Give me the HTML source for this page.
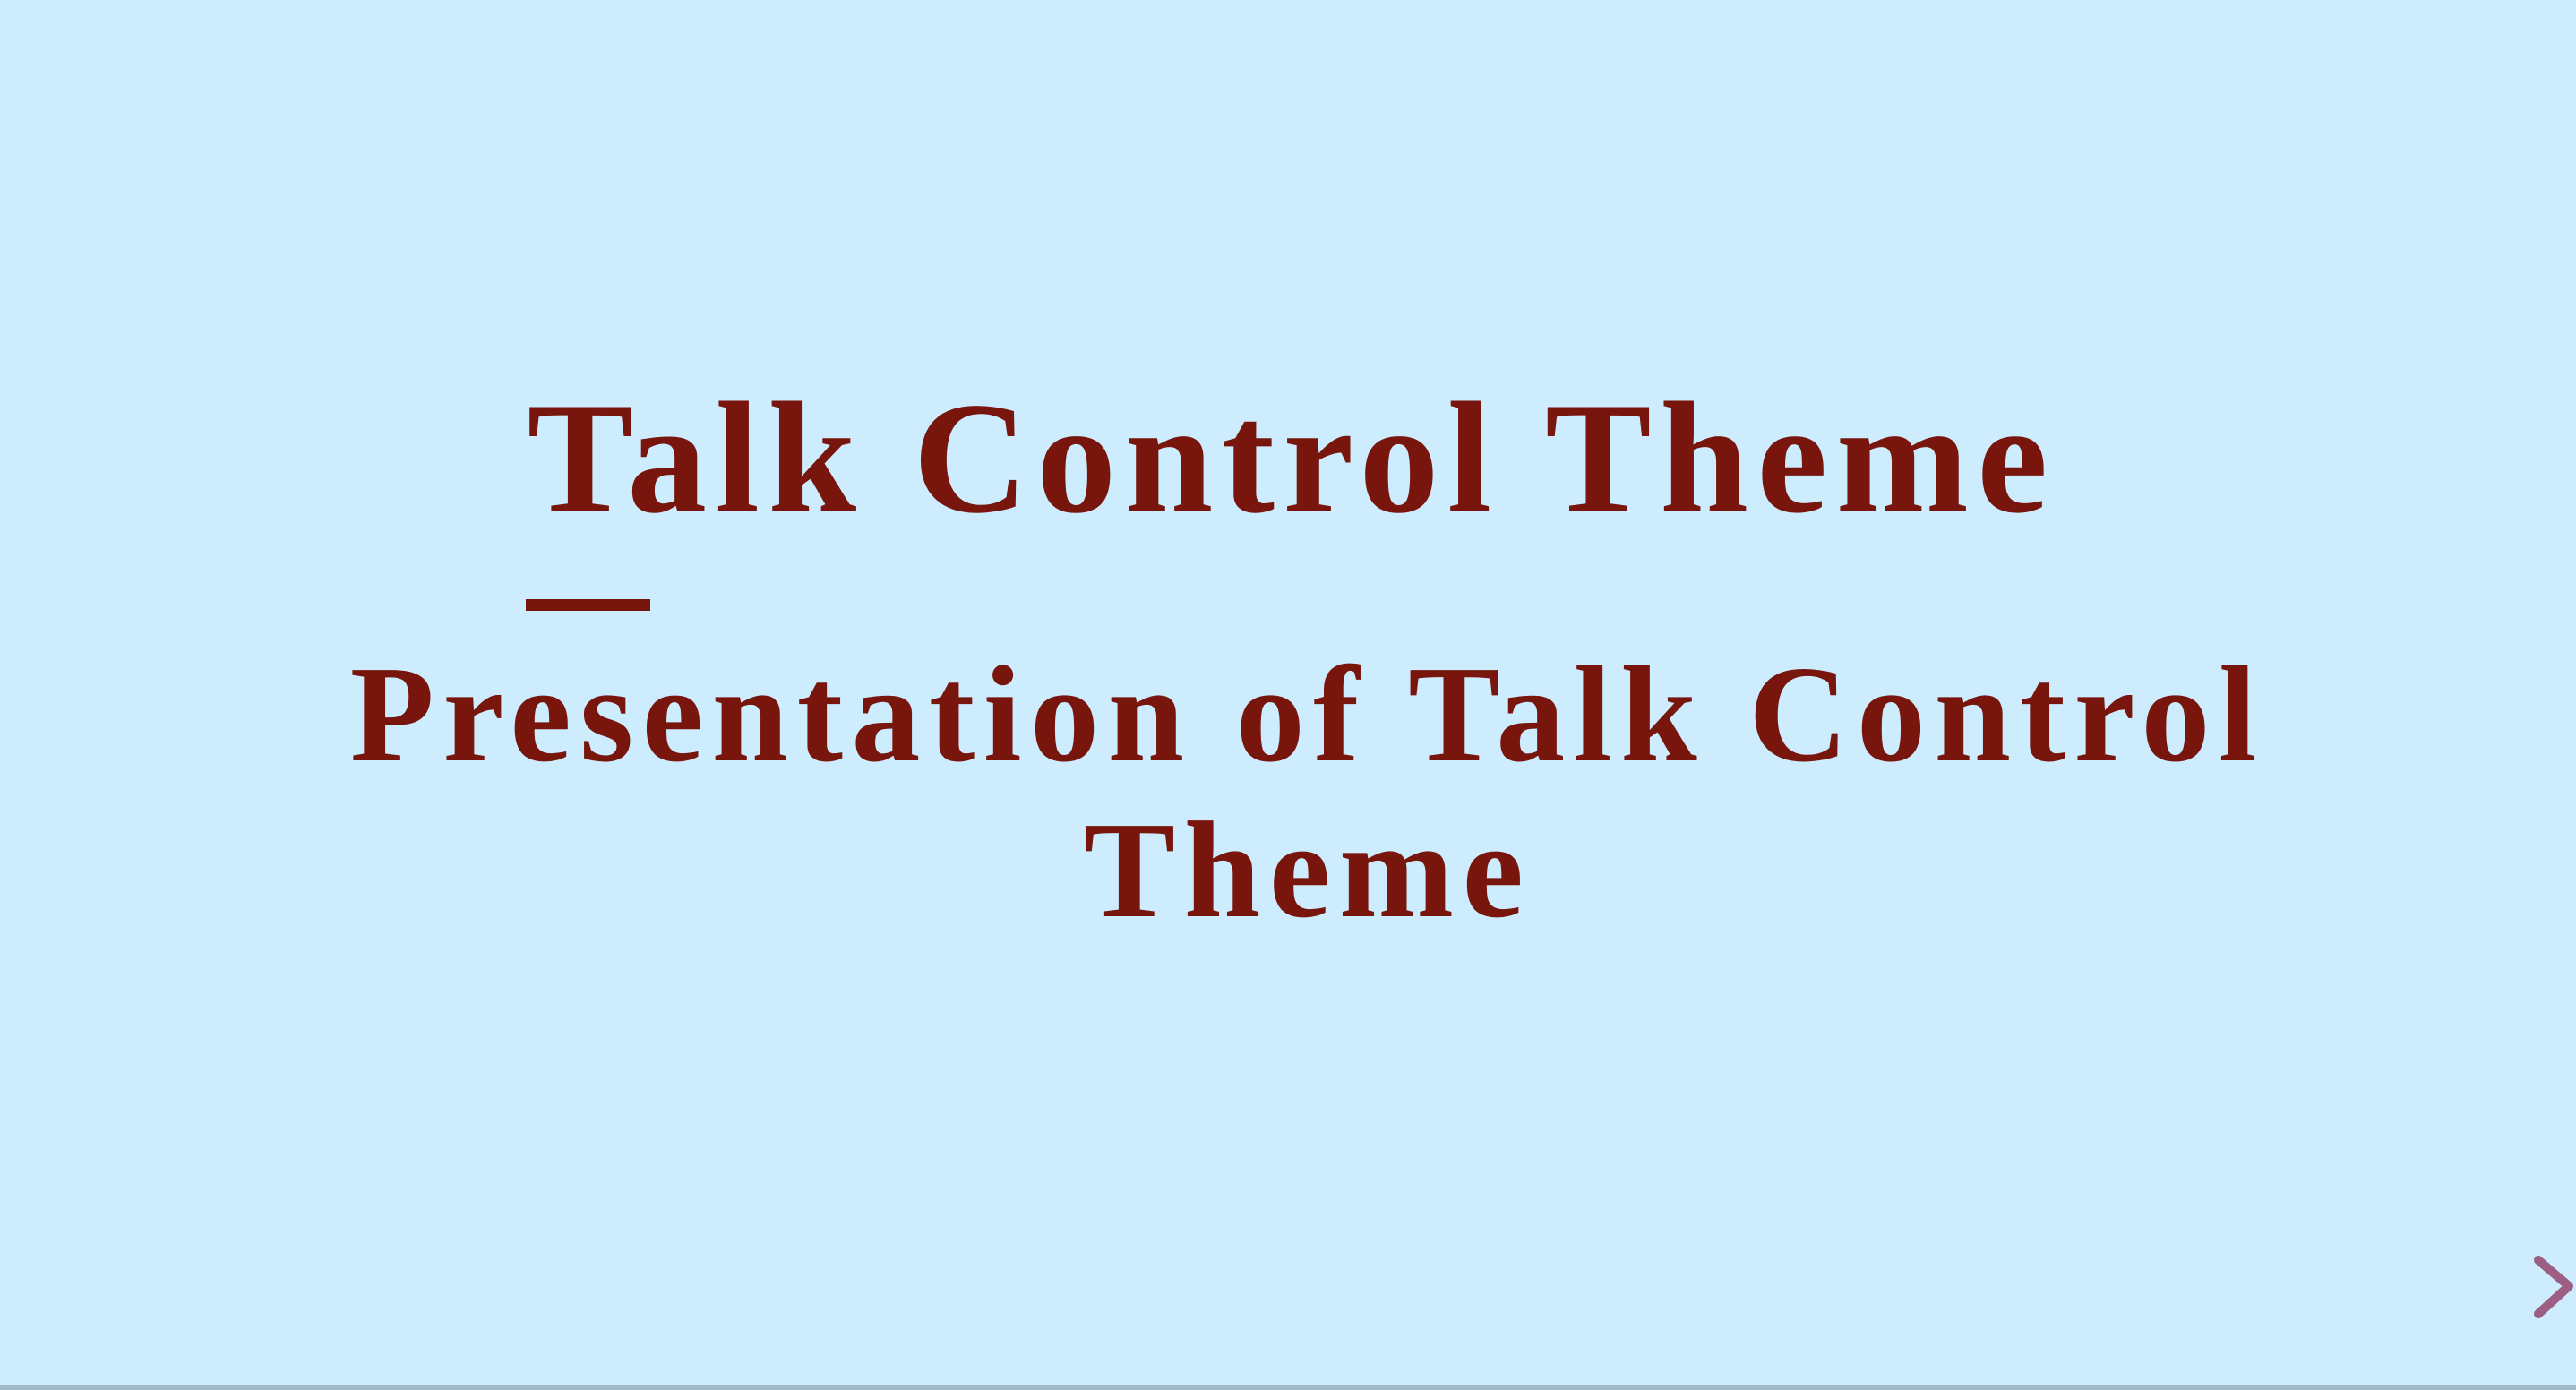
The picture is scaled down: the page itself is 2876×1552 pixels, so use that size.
<!DOCTYPE html>
<html><head><meta charset="utf-8"><style>
html,body{margin:0;padding:0}
body{width:2876px;height:1552px;background:#cdecfd;position:relative;overflow:hidden;font-family:"Liberation Serif",serif;color:#78160e;font-weight:bold}
.t{position:absolute;left:0;width:2876px;text-align:center;white-space:nowrap;line-height:1}
</style></head><body>
<div class="t" style="top:422px;left:4px;font-size:178px;letter-spacing:9.3px">Talk Control Theme</div>
<div style="position:absolute;left:587px;top:669px;width:139px;height:13px;background:#78160e"></div>
<div class="t" style="top:711px;left:22px;font-size:154px;line-height:174px;letter-spacing:9.5px">Presentation of Talk Control<br>Theme</div>
<svg style="position:absolute;left:2820px;top:1395px" width="60" height="85"><polyline points="14,12 48,41 14,72" fill="none" stroke="#9c5f83" stroke-width="10" stroke-linecap="round" stroke-linejoin="round"/></svg>
<div style="position:absolute;left:0;top:1546px;width:2876px;height:6px;background:#a2b9c9"></div>
</body></html>
